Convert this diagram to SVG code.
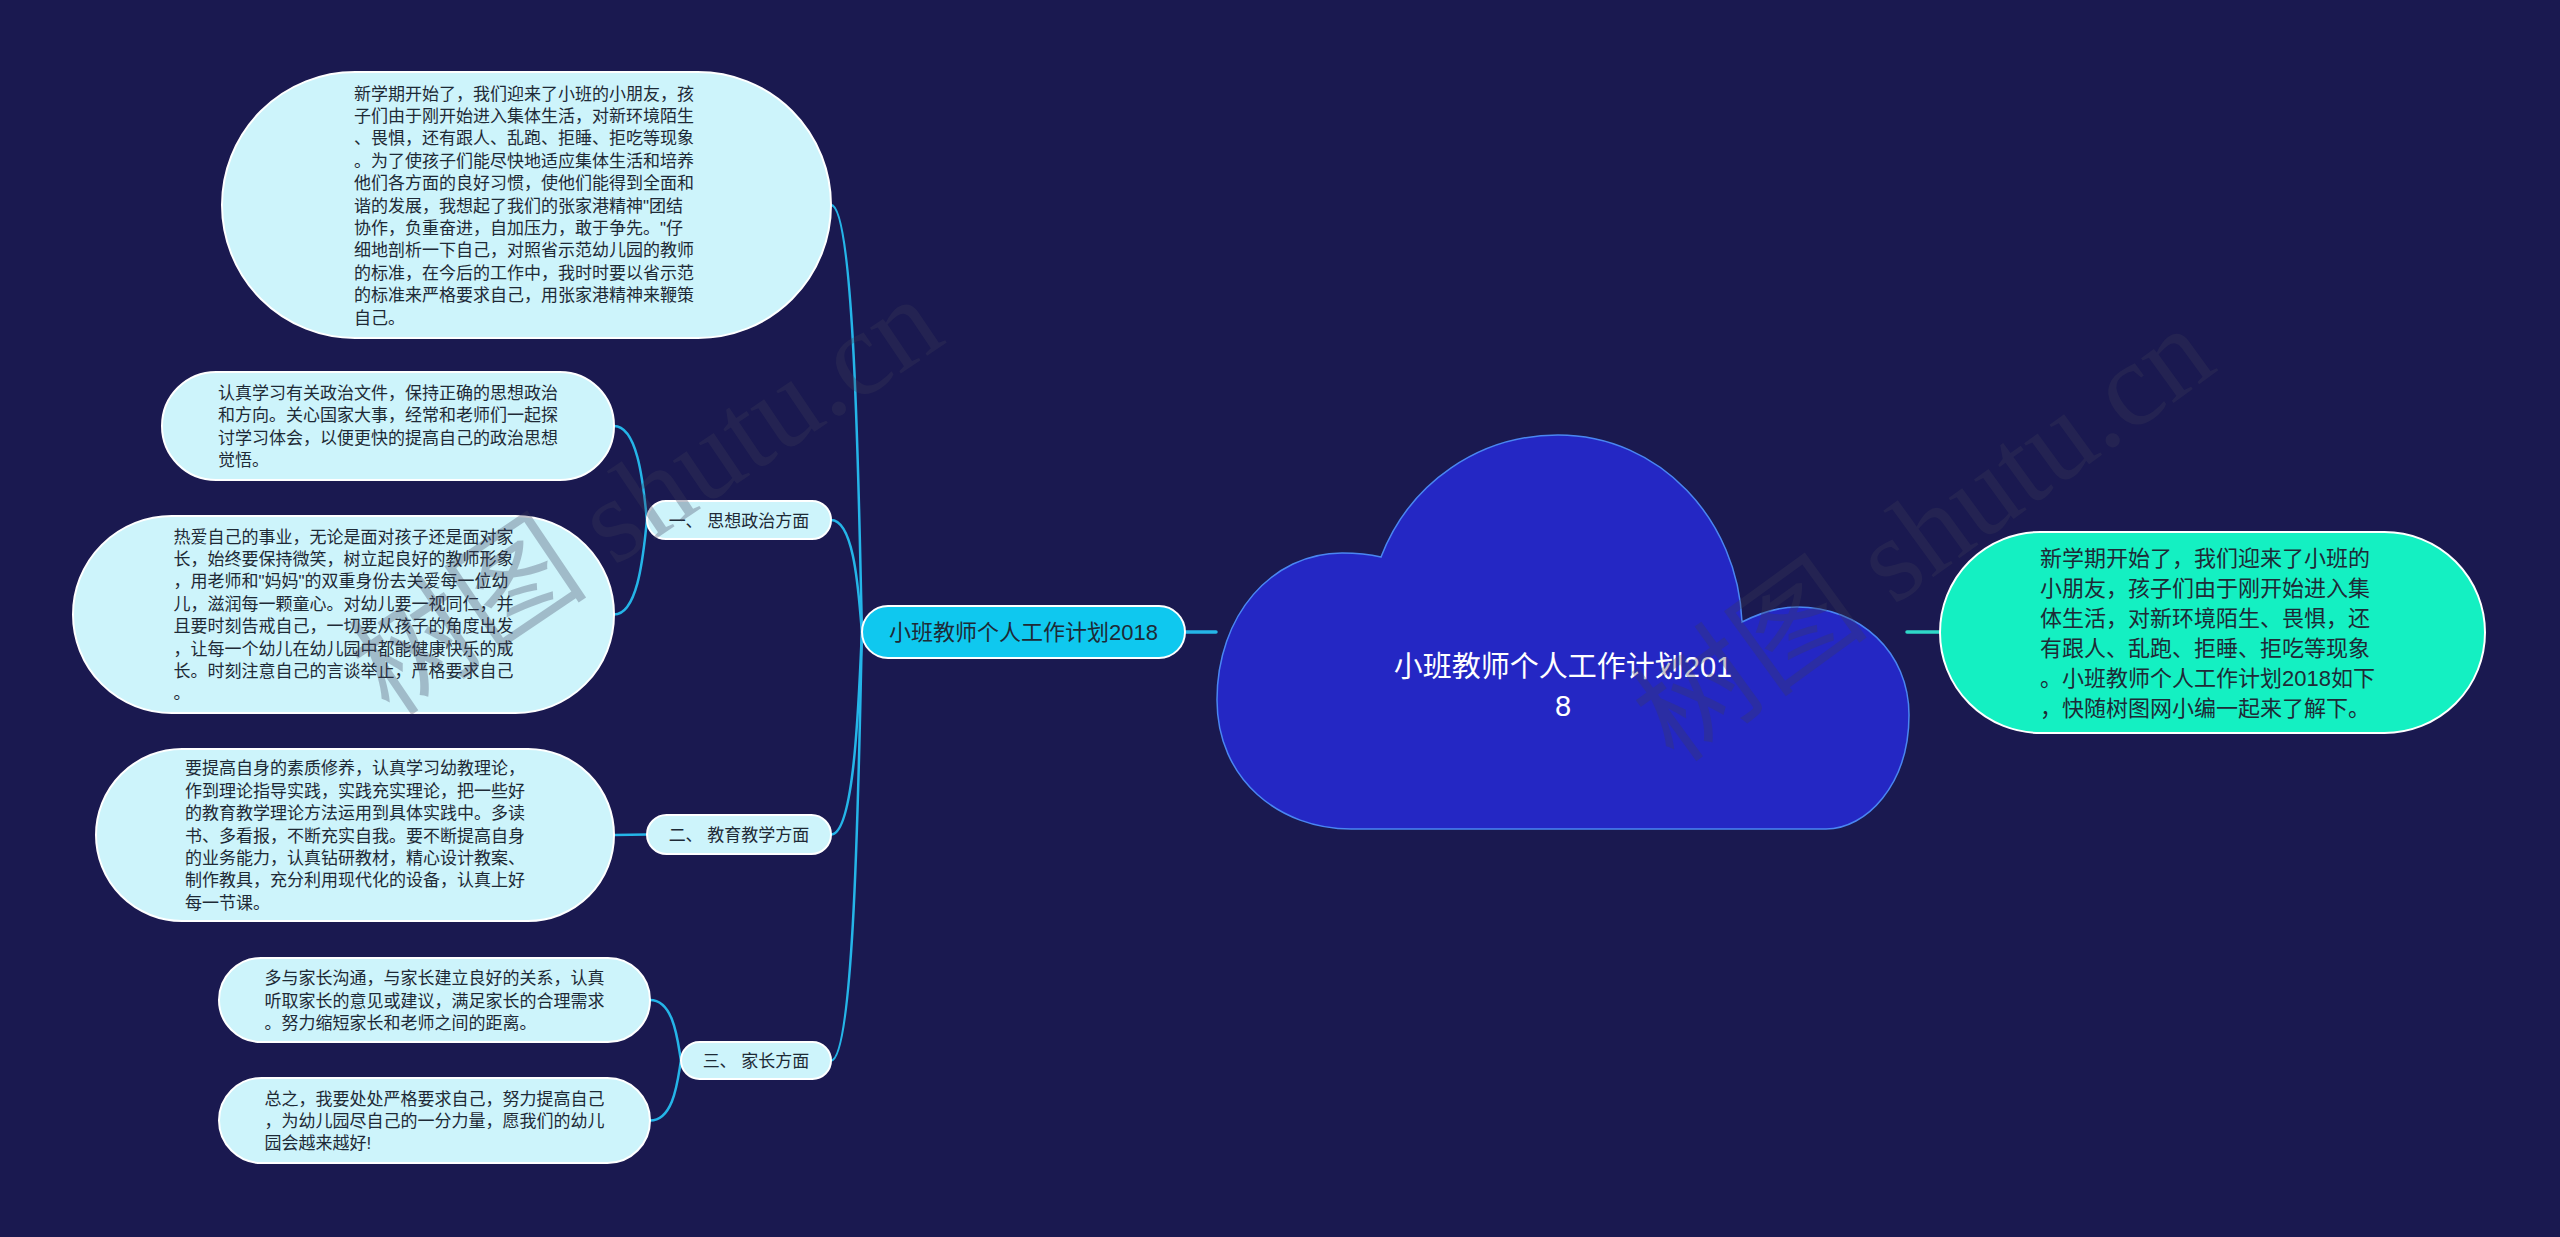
<svg xmlns="http://www.w3.org/2000/svg" width="2560" height="1237" viewBox="0 0 2560 1237">
<style>
.bg{fill:#1a1950}
.leaf{fill:#cdf4fb;stroke:#ffffff;stroke-width:2}
.sub{fill:#cdf4fb;stroke:#ffffff;stroke-width:2}
.main{fill:#0fc8ef;stroke:#ffffff;stroke-width:2}
.sum{fill:#14f0c2;stroke:#ffffff;stroke-width:2}
.cloud{fill:#2427c4;stroke:#4a86f2;stroke-width:1.5}
.t{font-family:"Liberation Sans","Noto Sans CJK SC",sans-serif;fill:#1e2a36}
.t17{font-size:17px}
.t22{font-size:22px}
.title{font-family:"Liberation Sans","Noto Sans CJK SC",sans-serif;font-size:29px;fill:#ffffff;text-anchor:middle}
.mid{text-anchor:middle}
.conn path{fill:none;stroke:#25b5e8;stroke-width:2.5;stroke-linecap:round}
.wm{font-family:"Liberation Serif","Noto Sans CJK SC",serif;font-size:120px;fill:#3c3c58;opacity:0.3}
</style>
<rect class="bg" x="0" y="0" width="2560" height="1237"/>

<g id="connectors" class="conn">
<path d="M1185 632 L1216 632" style="stroke-width:3.5"/>
<path d="M1907 632 L1940 632" style="stroke:#2fd8c8;stroke-width:3.5"/>
<path d="M831 205 C856 205 859 525 862 632"/>
<path d="M831 520 C856 520 859 604 862 632"/>
<path d="M831 834.5 C856 834.5 859 683 862 632"/>
<path d="M831 1060.5 C856 1060.5 859 739 862 632"/>
<path d="M614 426 C640 426 644 496 647 520"/>
<path d="M614 614.5 C640 614.5 644 544 647 520"/>
<path d="M614 835 L647 834.5"/>
<path d="M650 1000 C675 1000 678 1045 681 1060.5"/>
<path d="M650 1120.5 C675 1120.5 678 1076 681 1060.5"/>
</g>

<g id="root">
<path class="cloud" d="M1351 829 C1280 829 1217 780 1217 700 C1217 615 1272 553 1342 553 Q1364 553 1381 557 C1410 482 1480 435 1558 435 C1660 435 1738 520 1742 622 C1762 612 1778 607 1797 607 C1860 607 1909 652 1909 715 C1909 785 1866 829 1826 829 Z"/>
<text class="title" x="1563" y="677">小班教师个人工作计划201</text>
<text class="title" x="1563" y="716">8</text>
</g>

<g id="summary">
<rect class="sum" x="1940" y="532" width="545" height="201" rx="100.5" ry="100.5"/>
<text class="t t22">
<tspan x="2040" y="565.9">新学期开始了，我们迎来了小班的</tspan>
<tspan x="2040" y="595.9">小朋友，孩子们由于刚开始进入集</tspan>
<tspan x="2040" y="625.9">体生活，对新环境陌生、畏惧，还</tspan>
<tspan x="2040" y="655.9">有跟人、乱跑、拒睡、拒吃等现象</tspan>
<tspan x="2040" y="685.9">。小班教师个人工作计划2018如下</tspan>
<tspan x="2040" y="715.9">，快随树图网小编一起来了解下。</tspan>
</text>
</g>

<g id="main">
<rect class="main" x="862" y="606" width="323" height="52" rx="26" ry="26"/>
<text class="t t22 mid" x="1023.5" y="640.4">小班教师个人工作计划2018</text>
</g>

<g id="sub1">
<rect class="sub" x="647" y="501" width="184" height="38" rx="19" ry="19"/>
<text class="t t17 mid" x="739" y="526.5">一、 思想政治方面</text>
</g>
<g id="sub2">
<rect class="sub" x="647" y="815" width="184" height="39" rx="19.5" ry="19.5"/>
<text class="t t17 mid" x="739" y="841">二、 教育教学方面</text>
</g>
<g id="sub3">
<rect class="sub" x="681" y="1042" width="150" height="37" rx="18.5" ry="18.5"/>
<text class="t t17 mid" x="756" y="1067">三、 家长方面</text>
</g>

<g id="leafA">
<rect class="leaf" x="222" y="72" width="609" height="266" rx="133" ry="133"/>
<text class="t t17">
<tspan x="354" y="99.5">新学期开始了，我们迎来了小班的小朋友，孩</tspan>
<tspan x="354" y="121.9">子们由于刚开始进入集体生活，对新环境陌生</tspan>
<tspan x="354" y="144.3">、畏惧，还有跟人、乱跑、拒睡、拒吃等现象</tspan>
<tspan x="354" y="166.7">。为了使孩子们能尽快地适应集体生活和培养</tspan>
<tspan x="354" y="189.1">他们各方面的良好习惯，使他们能得到全面和</tspan>
<tspan x="354" y="211.5">谐的发展，我想起了我们的张家港精神"团结</tspan>
<tspan x="354" y="233.9">协作，负重奋进，自加压力，敢于争先。"仔</tspan>
<tspan x="354" y="256.3">细地剖析一下自己，对照省示范幼儿园的教师</tspan>
<tspan x="354" y="278.7">的标准，在今后的工作中，我时时要以省示范</tspan>
<tspan x="354" y="301.1">的标准来严格要求自己，用张家港精神来鞭策</tspan>
<tspan x="354" y="323.5">自己。</tspan>
</text>
</g>

<g id="leafB">
<rect class="leaf" x="162" y="372" width="452" height="108" rx="54" ry="54"/>
<text class="t t17">
<tspan x="218" y="398.9">认真学习有关政治文件，保持正确的思想政治</tspan>
<tspan x="218" y="421.3">和方向。关心国家大事，经常和老师们一起探</tspan>
<tspan x="218" y="443.7">讨学习体会，以便更快的提高自己的政治思想</tspan>
<tspan x="218" y="466.1">觉悟。</tspan>
</text>
</g>

<g id="leafC">
<rect class="leaf" x="73" y="516" width="541" height="197" rx="98.5" ry="98.5"/>
<text class="t t17">
<tspan x="173.5" y="542.6">热爱自己的事业，无论是面对孩子还是面对家</tspan>
<tspan x="173.5" y="565">长，始终要保持微笑，树立起良好的教师形象</tspan>
<tspan x="173.5" y="587.4">，用老师和"妈妈"的双重身份去关爱每一位幼</tspan>
<tspan x="173.5" y="609.8">儿，滋润每一颗童心。对幼儿要一视同仁，并</tspan>
<tspan x="173.5" y="632.2">且要时刻告戒自己，一切要从孩子的角度出发</tspan>
<tspan x="173.5" y="654.6">，让每一个幼儿在幼儿园中都能健康快乐的成</tspan>
<tspan x="173.5" y="677">长。时刻注意自己的言谈举止，严格要求自己</tspan>
<tspan x="173.5" y="699.4">。</tspan>
</text>
</g>

<g id="leafD">
<rect class="leaf" x="96" y="749" width="518" height="172" rx="86" ry="86"/>
<text class="t t17">
<tspan x="185" y="774.3">要提高自身的素质修养，认真学习幼教理论，</tspan>
<tspan x="185" y="796.7">作到理论指导实践，实践充实理论，把一些好</tspan>
<tspan x="185" y="819.1">的教育教学理论方法运用到具体实践中。多读</tspan>
<tspan x="185" y="841.5">书、多看报，不断充实自我。要不断提高自身</tspan>
<tspan x="185" y="863.9">的业务能力，认真钻研教材，精心设计教案、</tspan>
<tspan x="185" y="886.3">制作教具，充分利用现代化的设备，认真上好</tspan>
<tspan x="185" y="908.7">每一节课。</tspan>
</text>
</g>

<g id="leafE">
<rect class="leaf" x="219" y="958" width="431" height="84" rx="42" ry="42"/>
<text class="t t17">
<tspan x="264.5" y="984.1">多与家长沟通，与家长建立良好的关系，认真</tspan>
<tspan x="264.5" y="1006.5">听取家长的意见或建议，满足家长的合理需求</tspan>
<tspan x="264.5" y="1028.9">。努力缩短家长和老师之间的距离。</tspan>
</text>
</g>

<g id="leafF">
<rect class="leaf" x="219" y="1078" width="431" height="85" rx="42.5" ry="42.5"/>
<text class="t t17">
<tspan x="264.5" y="1104.6">总之，我要处处严格要求自己，努力提高自己</tspan>
<tspan x="264.5" y="1127">，为幼儿园尽自己的一分力量，愿我们的幼儿</tspan>
<tspan x="264.5" y="1149.4">园会越来越好!</tspan>
</text>
</g>

<g id="watermarks">
<text class="wm" transform="translate(390 718) rotate(-34)">树图 shutu.cn</text>
<text class="wm" transform="translate(1675 765) rotate(-36)">树图 shutu.cn</text>
</g>
</svg>
